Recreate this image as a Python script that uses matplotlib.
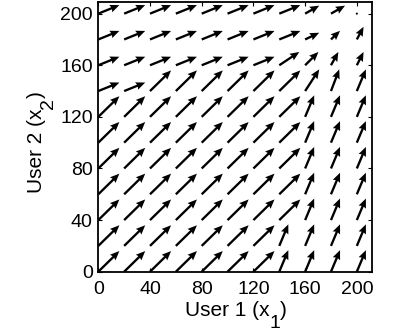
import matplotlib
matplotlib.use("Agg")
import matplotlib.pyplot as plt
from matplotlib.transforms import IdentityTransform
import numpy as np

plt.rcParams['font.family'] = ['Liberation Sans', 'DejaVu Sans']

# grid of starting points
x_vals = [0, 20, 40, 60, 80, 100, 120, 140, 160, 180, 200]
y_vals = [0, 20, 40, 60, 80, 100, 120, 140, 160, 180, 200]

# vector components, one row per y value (y = 0 ... 200), columns x = 0 ... 200
U_rows = [
    [16.3, 16.3, 16.3, 16.3, 16.3, 16.3, 16.3, 7.0, 7.0, 7.0, 7.0],     # y=0
    [16.3, 16.3, 16.3, 16.3, 16.3, 16.3, 16.3, 7.0, 7.0, 7.0, 7.0],     # y=20
    [16.3, 16.3, 16.3, 16.3, 16.3, 16.3, 16.3, 16.3, 7.0, 7.0, 7.0],    # y=40
    [16.3, 16.3, 16.3, 16.3, 16.3, 16.3, 16.3, 16.3, 7.0, 7.0, 7.0],    # y=60
    [16.3, 16.3, 16.3, 16.3, 16.3, 16.3, 16.3, 16.3, 7.0, 7.0, 7.0],    # y=80
    [16.3, 16.3, 16.3, 16.3, 16.3, 16.3, 16.3, 16.3, 7.0, 7.0, 7.0],    # y=100
    [16.3, 16.3, 16.3, 16.3, 16.3, 16.3, 16.3, 16.3, 7.0, 7.0, 7.0],    # y=120
    [16.3, 16.3, 16.3, 16.3, 16.3, 16.3, 16.3, 16.3, 10.9, 6.4, 7.0],   # y=140
    [16.3, 16.3, 16.3, 16.3, 16.3, 16.3, 16.3, 15.5, 10.3, 5.7, 5.2],   # y=160
    [16.3, 16.3, 16.3, 16.3, 16.3, 16.3, 16.3, 16.3, 10.9, 7.0, 5.2],   # y=180
    [16.3, 16.3, 16.3, 16.3, 16.3, 16.3, 16.3, 16.3, 10.9, 10.9, 0.0],  # y=200
]
V_rows = [
    [16.0, 16.0, 16.0, 16.0, 16.0, 16.0, 16.0, 16.7, 16.7, 16.7, 16.7],  # y=0
    [16.0, 16.0, 16.0, 16.0, 16.0, 16.0, 16.0, 16.7, 16.7, 16.7, 16.7],  # y=20
    [16.0, 16.0, 16.0, 16.0, 16.0, 16.0, 16.0, 16.0, 16.7, 16.7, 16.7],  # y=40
    [16.0, 16.0, 16.0, 16.0, 16.0, 16.0, 16.0, 16.0, 16.7, 16.7, 16.7],  # y=60
    [16.0, 16.0, 16.0, 16.0, 16.0, 16.0, 16.0, 16.0, 16.7, 16.7, 16.7],  # y=80
    [16.0, 16.0, 16.0, 16.0, 16.0, 16.0, 16.0, 16.0, 16.7, 16.7, 16.7],  # y=100
    [16.0, 16.0, 16.0, 16.0, 16.0, 16.0, 16.0, 16.0, 16.7, 16.7, 16.7],  # y=120
    [6.6, 6.6, 16.0, 16.0, 16.0, 16.0, 16.0, 16.0, 16.8, 16.8, 16.8],    # y=140
    [6.6, 6.6, 6.6, 6.6, 6.6, 6.6, 6.6, 10.3, 10.3, 10.3, 10.3],         # y=160
    [6.6, 6.6, 6.6, 6.6, 6.6, 6.6, 6.6, 6.6, 5.2, 6.7, 9.8],             # y=180
    [6.6, 6.6, 6.6, 6.6, 6.6, 6.6, 6.6, 6.6, 6.2, 6.2, 0.0],             # y=200
]

x_ticks = [0, 40, 80, 120, 160, 200]
y_ticks = [0, 40, 80, 120, 160, 200]
x_label_parts = ['User 1 (x', '1', ')']
y_label_parts = ['User 2 (x', '2', ')']

X, Y = np.meshgrid(x_vals, y_vals)
U = np.array(U_rows)
V = np.array(V_rows)

fig = plt.figure(figsize=(3.93, 3.32), dpi=100)
ax = fig.add_axes([0.2501, 0.1816, 0.6957, 0.8123])
ax.quiver(X, Y, U, V, angles='xy', scale_units='xy', scale=1, pivot='tail',
          color='black', width=0.0085, headwidth=3.4, headlength=4.0,
          headaxislength=3.6)
ax.set_xlim(0, 211.5)
ax.set_ylim(0, 209)
ax.set_xticks(x_ticks)
ax.set_yticks(y_ticks)
ax.tick_params(direction='in', length=3, width=0.8, top=True, right=True,
               labelsize=14)
ax.tick_params(axis='x', pad=6.5)
ax.tick_params(axis='y', pad=4)
for s in ax.spines.values():
    s.set_linewidth(1.3)

MAIN = 15
SUB = 14
SUB_DROP = 11  # pixels


def place_label(parts, center, base, vertical):
    renderer = fig.canvas.get_renderer()
    sizes = [MAIN, SUB, MAIN]
    drops = [0, SUB_DROP, 0]
    widths = []
    for s, sz in zip(parts, sizes):
        t = fig.text(0, 0, s, fontsize=sz)
        widths.append(t.get_window_extent(renderer).width)
        t.remove()
    pos = center - sum(widths) / 2
    for s, sz, d, w in zip(parts, sizes, drops, widths):
        if vertical:
            fig.text(base + d, pos, s, fontsize=sz, rotation=90,
                     rotation_mode='anchor', ha='left', va='baseline',
                     transform=IdentityTransform())
        else:
            fig.text(pos, base - d, s, fontsize=sz, ha='left', va='baseline',
                     transform=IdentityTransform())
        pos += w


place_label(x_label_parts, 236, 15.5, vertical=False)
place_label(y_label_parts, 190, 42, vertical=True)

fig.savefig('out.png', dpi=100)
